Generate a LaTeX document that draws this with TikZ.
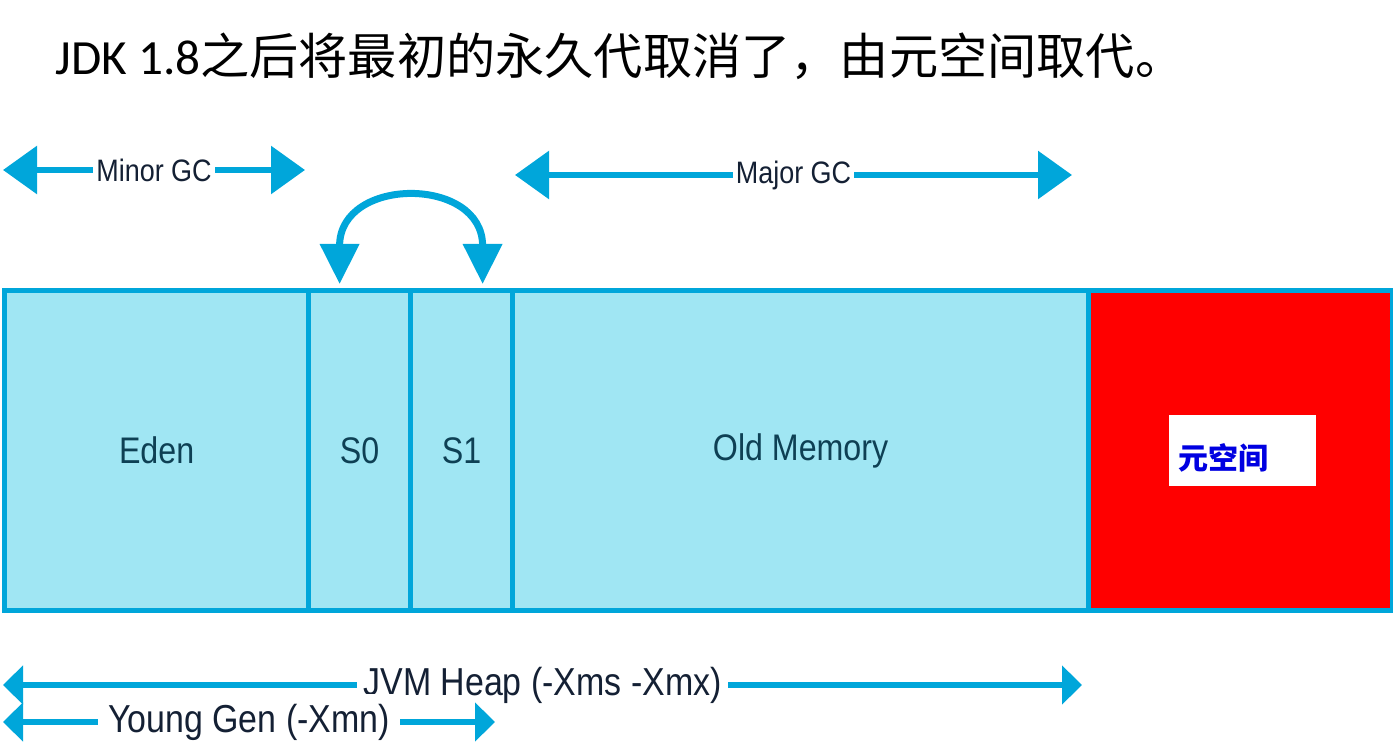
\documentclass[tikz,border=0pt]{standalone}
\usepackage{fontspec}
\setmainfont{Carlito}
\newfontfamily\cjk{Noto Sans CJK SC}
\newfontfamily\lbl[FakeStretch=0.87]{Liberation Sans}
\usepackage{tikz}
\usetikzlibrary{positioning}
\usetikzlibrary{arrows.meta}

\definecolor{gcline}{RGB}{0,166,218}
\definecolor{gcfill}{RGB}{160,230,243}
\definecolor{gctext}{RGB}{20,32,52}
\definecolor{boxtext}{RGB}{14,64,84}
\definecolor{metablue}{RGB}{0,0,225}

\begin{document}
\begin{tikzpicture}[x=0.5pt,y=-0.5pt,
  region/.style={draw=gcline,line width=2.6pt,fill=gcfill,anchor=north west,
    minimum height=160pt,inner sep=0pt,text=boxtext,font=\lbl\fontsize{18.5pt}{20pt}\selectfont},
  gcarrow/.style={draw=gcline,line width=3pt,{Triangle[length=17pt,width=23.5pt]}-{Triangle[length=17pt,width=23.5pt]}},
  heaparrow/.style={draw=gcline,line width=3pt,{Triangle[length=10pt,width=19pt]}-{Triangle[length=10pt,width=19pt]}},
  gclabel/.style={fill=white,inner sep=1.5pt,text=gctext,font=\lbl\fontsize{15.5pt}{17pt}\selectfont},
  heaplabel/.style={fill=white,inner sep=3pt,text=gctext,font=\lbl\fontsize{19.5pt}{21pt}\selectfont}]

\useasboundingbox (0,0) rectangle (1393,747);

% title
\node[anchor=base west,inner sep=0pt,font=\fontsize{24.6pt}{28pt}\selectfont] (title) at (55,75)
  {JDK 1.8{\cjk 之后将最初的永久代取消了，由元空间取代。}};

% heap regions
\node[region,minimum width=152pt] (eden) at (2,288) {Eden};
\node[region,minimum width=51pt] (szero) at (306,288) {S0};
\node[region,minimum width=51pt] (sone) at (408,288) {S1};
\node[region,minimum width=288pt] (old) at (510,288) {Old Memory};
\node[region,minimum width=152pt,fill=red] (meta) at (1086,288) {};
\node[fill=white,minimum width=73.5pt,minimum height=35.5pt,inner sep=0pt,anchor=north west] (metabox) at (1169,415) {};
\node[anchor=west,inner sep=0pt,text=metablue,font=\cjk\bfseries\fontsize{15pt}{17pt}\selectfont] (metatext)
  at ([xshift=4.5pt,yshift=-3.5pt]metabox.west) {元空间};

% GC ranges
\coordinate (minorL) at (3,170);
\coordinate (minorR) at (305,170);
\coordinate (majorL) at (515,175);
\coordinate (majorR) at (1072,175);
\draw[gcarrow] (minorL) -- node[gclabel] (minor) {Minor GC} (minorR);
\draw[gcarrow] (majorL) -- node[gclabel] (major) {Major GC} (majorR);

% survivor swap
\draw[draw=gcline,line width=3.5pt,{Triangle[length=20pt,width=19pt]}-{Triangle[length=20pt,width=19pt]}]
  ([xshift=-10pt,yshift=2pt]szero.north) .. controls +(0,-108) and +(0,-108) .. ([xshift=10.5pt,yshift=2pt]sone.north);

% sizes
\coordinate (heapL) at (3,685);
\coordinate (heapR) at (1082,685);
\coordinate (youngL) at (3,722);
\coordinate (youngR) at (495,722);
\draw[heaparrow] (heapL) -- node[heaplabel] (heap) {JVM Heap (-Xms -Xmx)} (heapR);
\draw[heaparrow] (youngL) -- node[heaplabel,inner sep=5pt] (young) {Young Gen (-Xmn)} (youngR);
\end{tikzpicture}
\end{document}
